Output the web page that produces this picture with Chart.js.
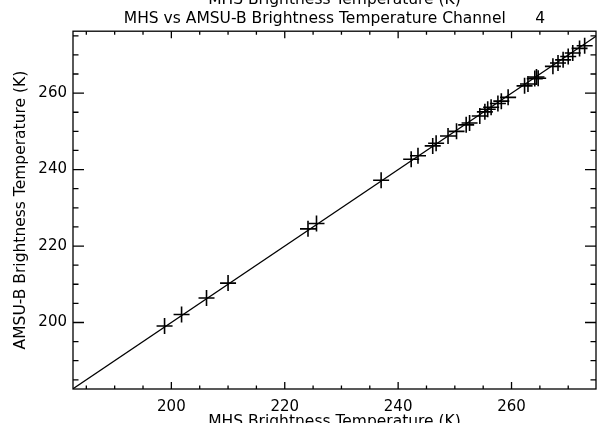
<!DOCTYPE html>
<html>
<head>
<meta charset="utf-8">
<script src="https://cdn.jsdelivr.net/npm/chart.js@4/dist/chart.umd.min.js"></script>
<style>
  html, body { margin: 0; padding: 0; background: #fff; }
</style>
</head>
<body>
<canvas id="chart" width="597" height="423"></canvas>
<script>
// MHS vs AMSU-B brightness temperatures (K), channel 4
const mhsTb   = [198.8, 201.8, 206.2, 210.0, 224.1, 225.6, 237.0, 242.3, 243.5, 246.1, 246.7, 248.8,
                 250.3, 252.0, 252.6, 254.4, 255.3, 255.8, 256.4, 257.6, 258.2, 259.4, 262.3, 262.9,
                 264.1, 264.4, 264.7, 267.3, 268.2, 269.1, 270.0, 270.8, 272.0, 272.9];
const amsubTb = [199.1, 202.1, 206.4, 210.3, 224.5, 225.9, 237.2, 242.7, 243.6, 246.2, 246.9, 248.8,
                 250.0, 251.7, 252.2, 254.0, 255.1, 255.8, 256.3, 257.3, 257.9, 258.9, 261.9, 262.4,
                 263.8, 264.2, 263.9, 267.0, 267.9, 268.7, 269.6, 270.5, 271.7, 272.4];

const xRange = [182.65, 274.9];
const yRange = [182.6, 276.2];
const majorTicks = [200, 220, 240, 260];
const minorTicks = [185, 190, 195, 205, 210, 215, 225, 230, 235, 245, 250, 255, 265, 270, 275];
const channel = 4;

const family = '"DejaVu Sans", sans-serif';
const tickFont = { family: family, size: 15, weight: 'normal', lineHeight: 1.2 };
const titleFont = { family: family, size: 15.5, weight: 'normal', lineHeight: 1.2 };

// IDL style box: ticks pointing inwards on all four sides
const idlFrame = {
  id: 'idlFrame',
  afterDraw(chart) {
    const { ctx, chartArea: { left, right, top, bottom }, scales: { x, y } } = chart;
    ctx.save();
    ctx.strokeStyle = '#000';
    ctx.lineWidth = 1.3;
    ctx.strokeRect(left, top, right - left, bottom - top);
    ctx.beginPath();
    const xt = (vals, len) => vals.filter(v => v <= x.max).forEach(v => {
      const px = x.getPixelForValue(v);
      ctx.moveTo(px, bottom); ctx.lineTo(px, bottom - len);
      ctx.moveTo(px, top); ctx.lineTo(px, top + len);
    });
    const yt = (vals, len) => vals.filter(v => v <= y.max).forEach(v => {
      const py = y.getPixelForValue(v);
      ctx.moveTo(left, py); ctx.lineTo(left + len, py);
      ctx.moveTo(right, py); ctx.lineTo(right - len, py);
    });
    xt(majorTicks, 7); xt(minorTicks, 3.5);
    yt(majorTicks, 11); yt(minorTicks, 5.5);
    ctx.stroke();
    ctx.restore();
  }
};

new Chart(document.getElementById('chart'), {
  type: 'scatter',
  data: {
    datasets: [
      {
        // one-to-one line
        type: 'line',
        data: xRange.map(v => ({ x: v, y: v })),
        borderColor: '#000',
        borderWidth: 1.2,
        pointRadius: 0,
        fill: false
      },
      {
        data: mhsTb.map((v, i) => ({ x: v, y: amsubTb[i] })),
        pointStyle: 'cross',
        pointRadius: 8,
        borderColor: '#000',
        backgroundColor: '#000',
        borderWidth: 1.6
      }
    ]
  },
  options: {
    responsive: false,
    animation: false,
    devicePixelRatio: 1,
    layout: { autoPadding: false, padding: { right: 1 } },
    plugins: {
      legend: { display: false },
      tooltip: { enabled: false },
      title: {
        display: true, fullSize: false, color: '#000', font: titleFont,
        text: 'MHS Brightness Temperature (K)',
        padding: { top: -9, bottom: 0 }
      },
      subtitle: {
        display: true, fullSize: false, color: '#000', font: titleFont,
        text: 'MHS vs AMSU-B Brightness Temperature Channel      ' + channel,
        padding: { top: 0, bottom: 3 }
      }
    },
    scales: {
      x: {
        type: 'linear', position: 'bottom',
        min: xRange[0], max: xRange[1],
        afterBuildTicks: s => { s.ticks = majorTicks.map(v => ({ value: v })); },
        afterFit: s => { s.height = 34; s.paddingLeft = 0; s.paddingRight = 0; },
        grid: { display: false, drawTicks: false },
        border: { display: false },
        ticks: { color: '#000', font: tickFont, padding: 9, maxRotation: 0 },
        title: {
          display: true, text: 'MHS Brightness Temperature (K)', color: '#000', font: titleFont,
          padding: { top: 0, bottom: -8 }
        }
      },
      y: {
        type: 'linear', position: 'left',
        min: yRange[0], max: yRange[1],
        afterBuildTicks: s => { s.ticks = majorTicks.map(v => ({ value: v })); },
        afterFit: s => { s.width = 73; s.paddingTop = 0; s.paddingBottom = 0; },
        grid: { display: false, drawTicks: false },
        border: { display: false },
        ticks: { color: '#000', font: tickFont, padding: 6 },
        title: {
          display: true, text: 'AMSU-B Brightness Temperature (K)', color: '#000', font: titleFont,
          padding: { top: 12, bottom: 0 }
        }
      }
    }
  },
  plugins: [idlFrame]
});
</script>
</body>
</html>
